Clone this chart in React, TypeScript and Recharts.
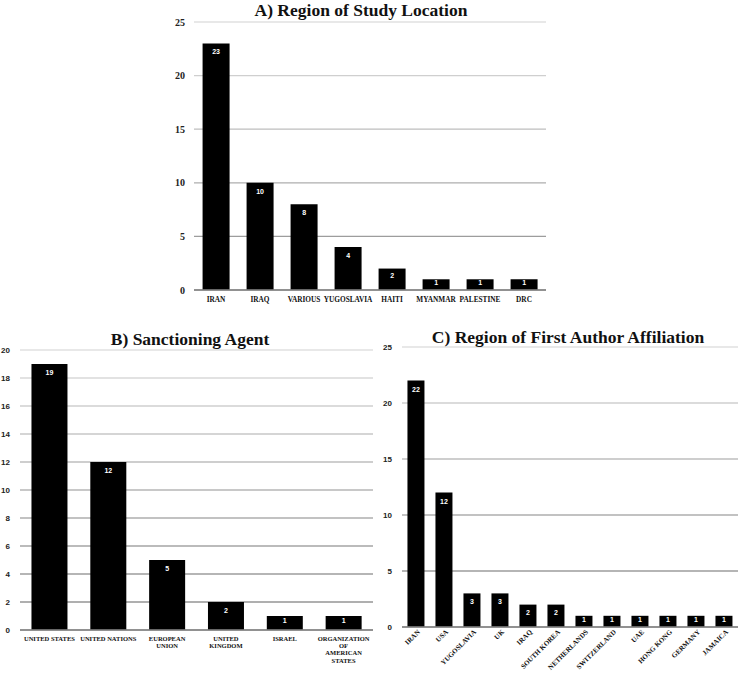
import React from 'react';
import { BarChart, Bar, XAxis, YAxis, CartesianGrid, LabelList } from 'recharts';

// A) Region of study location
const studyRegions = ['IRAN', 'IRAQ', 'VARIOUS', 'YUGOSLAVIA', 'HAITI', 'MYANMAR', 'PALESTINE', 'DRC'];
const studyCounts = [23, 10, 8, 4, 2, 1, 1, 1];
const studyTicks = [0, 5, 10, 15, 20, 25];

// B) Sanctioning agent
const agents = [
  'UNITED STATES',
  'UNITED NATIONS',
  'EUROPEAN UNION',
  'UNITED KINGDOM',
  'ISRAEL',
  'ORGANIZATION OF AMERICAN STATES',
];
const agentTickLines = [
  ['UNITED STATES'],
  ['UNITED NATIONS'],
  ['EUROPEAN', 'UNION'],
  ['UNITED', 'KINGDOM'],
  ['ISRAEL'],
  ['ORGANIZATION', 'OF', 'AMERICAN', 'STATES'],
];
const agentCounts = [19, 12, 5, 2, 1, 1];
const agentTicks = [0, 2, 4, 6, 8, 10, 12, 14, 16, 18, 20];

// C) Region of first author affiliation
const affiliationRegions = [
  'IRAN', 'USA', 'YUGOSLAVIA', 'UK', 'IRAQ', 'SOUTH KOREA',
  'NETHERLANDS', 'SWITZERLAND', 'UAE', 'HONG KONG', 'GERMANY', 'JAMAICA',
];
const affiliationCounts = [22, 12, 3, 3, 2, 2, 1, 1, 1, 1, 1, 1];
const affiliationTicks = [0, 5, 10, 15, 20, 25];

const serif = '"Liberation Serif", "Times New Roman", serif';
const sans = '"Liberation Sans", Arial, sans-serif';

const toRows = (names: string[], values: number[]) =>
  names.map((name, i) => ({ name, value: values[i] }));

// grid lines get darker towards the bottom, like the scanned figure
const shadedGrid = (top: number, bottom: number) => (props: any) => {
  const t = Math.max(0, Math.min(1, (props.y1 - top) / (bottom - top)));
  const v = Math.round(224 - t * 84);
  return (
    <line
      key={`grid-${props.y1}`}
      x1={props.x1}
      x2={props.x2}
      y1={props.y1}
      y2={props.y2}
      stroke={`rgb(${v},${v},${v})`}
      strokeWidth={1.3}
    />
  );
};

const valueLabel = (props: any) => {
  const { x, y, width, height, value } = props;
  const cy = y + Math.min(8.5, height * 0.34);
  return (
    <text
      x={x + width / 2}
      y={cy}
      dy="0.35em"
      textAnchor="middle"
      fill="#fff"
      fontSize={7}
      fontWeight="bold"
      fontFamily={sans}
    >
      {value}
    </text>
  );
};

const AgentTick = (props: any) => {
  const { x, y, index } = props;
  const lines = agentTickLines[index] || [];
  return (
    <g transform={`translate(${x},${y})`}>
      {lines.map((line, i) => (
        <text
          key={i}
          x={0}
          y={i * 7.4}
          dy="0.71em"
          textAnchor="middle"
          fill="#111"
          fontSize={6.5}
          fontWeight="bold"
          fontFamily={serif}
        >
          {line}
        </text>
      ))}
    </g>
  );
};

const AffiliationTick = (props: any) => {
  const { x, y, payload } = props;
  return (
    <g transform={`translate(${x + 3},${y})`}>
      <text
        x={0}
        y={0}
        dy="0.3em"
        textAnchor="end"
        transform="rotate(-45)"
        fill="#111"
        fontSize={7}
        fontWeight="bold"
        fontFamily={serif}
      >
        {payload.value}
      </text>
    </g>
  );
};

const App: React.FC = () => {
  const studyData = toRows(studyRegions, studyCounts);
  const agentData = toRows(agents, agentCounts);
  const affiliationData = toRows(affiliationRegions, affiliationCounts);

  return (
    <div style={{ position: 'absolute', left: 0, top: 0, width: 740, height: 680, background: '#fff' }}>
      <div style={{ position: 'absolute', left: 0, top: 0 }}>
        <BarChart
          width={740}
          height={330}
          data={studyData}
          margin={{ top: 22, right: 194, left: 154, bottom: 10 }}
          barCategoryGap="19.5%"
        >
          <CartesianGrid vertical={false} horizontal={shadedGrid(22, 290)} />
          <XAxis
            dataKey="name"
            interval={0}
            height={30}
            tickLine={false}
            tickSize={0}
            tickMargin={7}
            axisLine={{ stroke: '#8a8a8a', strokeWidth: 1.5 }}
            tick={{ fontSize: 7.3, fontWeight: 'bold', fontFamily: serif, fill: '#111' }}
          />
          <YAxis
            width={40}
            domain={[0, 25]}
            ticks={studyTicks}
            axisLine={false}
            tickLine={false}
            tickSize={0}
            tickMargin={9}
            tick={{ fontSize: 10, fontWeight: 'bold', fontFamily: serif, fill: '#222' }}
          />
          <Bar dataKey="value" fill="#000" isAnimationActive={false}>
            <LabelList dataKey="value" content={valueLabel} />
          </Bar>
        </BarChart>
      </div>

      <div style={{ position: 'absolute', left: 0, top: 330 }}>
        <BarChart
          width={380}
          height={350}
          data={agentData}
          margin={{ top: 20, right: 7, left: 0, bottom: 10 }}
          barCategoryGap="19.5%"
        >
          <CartesianGrid vertical={false} horizontal={shadedGrid(20, 300)} />
          <XAxis
            dataKey="name"
            interval={0}
            height={40}
            tickLine={false}
            tickSize={0}
            tickMargin={6}
            axisLine={{ stroke: '#8a8a8a', strokeWidth: 1.5 }}
            tick={<AgentTick />}
          />
          <YAxis
            width={20}
            domain={[0, 20]}
            ticks={agentTicks}
            axisLine={false}
            tickLine={false}
            tickSize={0}
            tickMargin={10}
            tick={{ fontSize: 8, fontWeight: 'bold', fontFamily: sans, fill: '#222' }}
          />
          <Bar dataKey="value" fill="#000" isAnimationActive={false}>
            <LabelList dataKey="value" content={valueLabel} />
          </Bar>
        </BarChart>
      </div>

      <div style={{ position: 'absolute', left: 370, top: 330 }}>
        <BarChart
          width={370}
          height={350}
          data={affiliationData}
          margin={{ top: 17, right: 2, left: 0, bottom: 3 }}
          barCategoryGap="19.5%"
        >
          <CartesianGrid vertical={false} horizontal={shadedGrid(17, 297)} />
          <XAxis
            dataKey="name"
            interval={0}
            height={50}
            tickLine={false}
            tickSize={0}
            tickMargin={4}
            axisLine={{ stroke: '#8a8a8a', strokeWidth: 1.5 }}
            tick={<AffiliationTick />}
          />
          <YAxis
            width={32}
            domain={[0, 25]}
            ticks={affiliationTicks}
            axisLine={false}
            tickLine={false}
            tickSize={0}
            tickMargin={10}
            tick={{ fontSize: 8, fontWeight: 'bold', fontFamily: sans, fill: '#222' }}
          />
          <Bar dataKey="value" fill="#000" isAnimationActive={false}>
            <LabelList dataKey="value" content={valueLabel} />
          </Bar>
        </BarChart>
      </div>

      <svg
        width={740}
        height={680}
        style={{ position: 'absolute', left: 0, top: 0, pointerEvents: 'none' }}
      >
        <g fontFamily={serif} fontWeight="bold" fontSize={17.5} fill="#111" textAnchor="middle">
          <text x={361} y={16}>A) Region of Study Location</text>
          <text x={190} y={345}>B) Sanctioning Agent</text>
          <text x={568} y={343}>C) Region of First Author Affiliation</text>
        </g>
      </svg>
    </div>
  );
};

export default App;
